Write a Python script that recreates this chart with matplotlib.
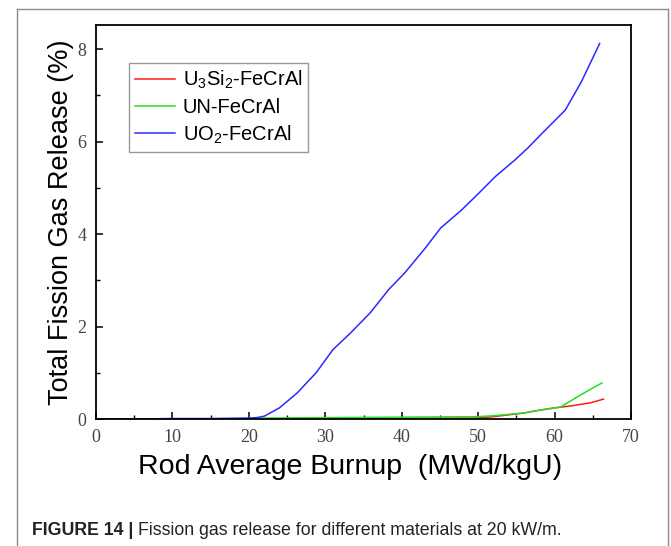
import matplotlib.pyplot as plt
from matplotlib.lines import Line2D
from matplotlib.ticker import MultipleLocator

plt.rcParams['mathtext.fontset'] = 'custom'
plt.rcParams['mathtext.rm'] = 'Liberation Sans'
plt.rcParams['mathtext.it'] = 'Liberation Sans:italic'

# data
burnup_uo2 = [0, 5, 10, 15, 20, 21, 22, 24, 26.3, 28.8, 31, 33.3, 35.9, 38.3, 40.4,
              43.1, 45.1, 47.7, 49.7, 52.3, 54.8, 56.5, 58.5, 61.4, 63.5, 65.9]
fgr_uo2 = [0, 0, 0.01, 0.01, 0.02, 0.03, 0.06, 0.24, 0.56, 1.0, 1.5, 1.86, 2.3, 2.8, 3.16,
           3.7, 4.13, 4.5, 4.82, 5.25, 5.6, 5.86, 6.2, 6.68, 7.29, 8.12]

burnup_u3si2 = [0, 10, 20, 30, 40, 50, 52, 54, 56, 58, 60, 62, 64.7, 66.4]
fgr_u3si2 = [0, 0, 0.005, 0.01, 0.015, 0.02, 0.05, 0.09, 0.13, 0.19, 0.24, 0.28, 0.35, 0.43]

burnup_un = [0, 10, 20, 22, 30, 40, 50, 52, 54, 56, 58, 60.8, 62, 63.4, 65, 66.2]
fgr_un = [0, 0, 0.01, 0.02, 0.03, 0.04, 0.05, 0.07, 0.1, 0.13, 0.19, 0.26, 0.38, 0.52, 0.67, 0.78]

labels = [r'U$_3$Si$_2$-FeCrAl', 'UN-FeCrAl', r'UO$_2$-FeCrAl']
colors = ['#ff1a1a', '#22e022', '#2a2aff']

fig = plt.figure(figsize = (6.71, 5.46), dpi = 100)
ax = fig.add_axes([96/671, 1 - 419/546, 535/671, 394/546])

ax.plot(burnup_u3si2, fgr_u3si2, color = colors[0], linewidth = 1.1, label = labels[0])
ax.plot(burnup_un, fgr_un, color = colors[1], linewidth = 1.1, label = labels[1])
ax.plot(burnup_uo2, fgr_uo2, color = colors[2], linewidth = 1.1, label = labels[2])

ax.set_xlim(0, 70)
ax.set_ylim(0, 8.52)

ax.xaxis.set_major_locator(MultipleLocator(10))
ax.xaxis.set_minor_locator(MultipleLocator(5))
ax.yaxis.set_major_locator(MultipleLocator(2))
ax.yaxis.set_minor_locator(MultipleLocator(1))

ax.tick_params(which = 'both', direction = 'in', colors = 'black', labelcolor = '#444444')
ax.tick_params(which = 'major', length = 5, width = 1.1, pad = 7)
ax.tick_params(which = 'minor', length = 3, width = 1.0)
for lab in ax.get_xticklabels() + ax.get_yticklabels():
    lab.set_fontfamily('Liberation Serif')
    lab.set_fontsize(13)

for spine in ax.spines.values():
    spine.set_linewidth(1.3)

ax.set_xlabel('Rod Average Burnup  (MWd/kgU)', fontsize = 20.5, family = 'Liberation Sans')
ax.xaxis.set_label_coords(0.475, -0.088)
ax.set_ylabel('Total Fission Gas Release (%)', fontsize = 19.5, family = 'Liberation Sans', labelpad = 2)

leg = ax.legend(loc = 'upper left', bbox_to_anchor = (0.062, 0.904), borderaxespad = 0,
                fancybox = False, edgecolor = '#999999', framealpha = 1,
                prop = {'family': 'Liberation Sans', 'size': 14.5},
                handlelength = 2.0, handletextpad = 0.35, labelspacing = 0.33,
                borderpad = 0.3)
leg.get_frame().set_linewidth(1.0)

# outer panel border
border_color = '#8c8c8c'
fig.add_artist(Line2D([17/671, 17/671], [0, 1 - 9/546], transform = fig.transFigure, color = border_color, linewidth = 1))
fig.add_artist(Line2D([668/671, 668/671], [0, 1 - 9/546], transform = fig.transFigure, color = border_color, linewidth = 1))
fig.add_artist(Line2D([17/671, 668/671], [1 - 9/546, 1 - 9/546], transform = fig.transFigure, color = border_color, linewidth = 1))

# caption
cap1 = fig.text(32/671, 1 - 535/546, 'FIGURE 14 | ', fontsize = 12.8, weight = 'bold',
                family = 'Liberation Sans', color = '#222222')
ax.annotate('Fission gas release for different materials at 20 kW/m.', xy = (1, 0), xycoords = cap1,
            va = 'bottom', ha = 'left', fontsize = 12.8, family = 'Liberation Sans',
            color = '#222222', annotation_clip = False)

plt.savefig('out.png', dpi = 100)
